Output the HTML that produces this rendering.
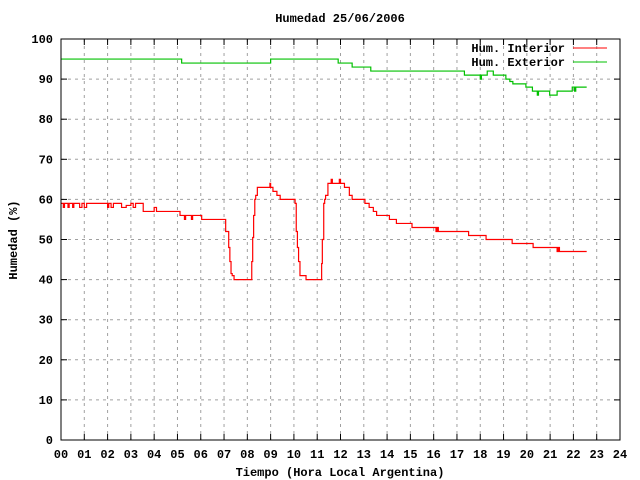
<!DOCTYPE html>
<html><head><meta charset="utf-8"><style>
body{margin:0;background:#fff}
svg{display:block}
text{font-family:"Liberation Mono",monospace;font-size:12px;font-weight:bold;fill:#000}
</style></head><body>
<svg id="c" width="640" height="480"></svg>
<script>
const xTicks=["00","01","02","03","04","05","06","07","08","09","10","11","12","13","14","15","16","17","18","19","20","21","22","23","24"];
const yTicks=[0,10,20,30,40,50,60,70,80,90,100];
const interiorT=[0,0.1,0.15,0.3,0.35,0.5,0.55,0.8,0.9,1.0,1.1,2.0,2.05,2.15,2.25,2.6,2.8,3.0,3.1,3.2,3.53,4.0,4.1,5.11,5.3,5.35,5.6,5.65,6.04,7.07,7.2,7.25,7.3,7.35,7.43,8.19,8.23,8.27,8.32,8.36,8.43,8.97,9.0,9.1,9.27,9.41,10.05,10.1,10.15,10.2,10.26,10.32,10.52,11.19,11.22,11.28,11.32,11.36,11.46,11.6,11.65,11.95,12.0,12.17,12.38,12.5,13.05,13.23,13.41,13.55,14.1,14.4,15.07,16.1,16.15,16.2,17.5,18.25,19.37,20.27,21.3,21.35,21.4,22.57];
const interiorV=[59,58,59,58,59,58,59,58,59,58,59,58,59,58,59,58,58.5,59,58,59,57,58,57,56,55,56,55,56,55,52,48,44.5,41.5,41,40,44.5,50.5,56,60,61,63,64,63,62,61,60,59,52,48,44.5,41,41,40,44,50,59,60,61,64,65,64,65,64,63,61,60,59,58,57,56,55,54,53,52,53,52,51,50,49,48,47,48,47,47];
const exteriorT=[0,5.18,9.0,11.9,12.5,13.3,17.32,18.0,18.05,18.3,18.56,19.1,19.27,19.4,19.96,20.24,20.45,20.5,20.98,21.3,21.95,22.05,22.1,22.57];
const exteriorV=[95,94,95,94,93,92,91,90,91,92,91,90,89.4,88.8,88,87,86,87,86,87,88,87,88,88];
const L=61,R=620,T=39,B=440;
const xs=h=>L+h*(R-L)/24, ys=v=>B-v*(B-T)/100;
const svg=document.getElementById('c');const NS='http://www.w3.org/2000/svg';
function mk(tag,attrs,txt){const e=document.createElementNS(NS,tag);for(const k in attrs)e.setAttribute(k,attrs[k]);if(txt!==undefined)e.textContent=txt;svg.appendChild(e);return e;}
yTicks.forEach((v,i)=>{const y=ys(v);
 if(v>0&&v<100){const g=mk('line',{x1:L,x2:R,y1:y,y2:y,stroke:'#a0a0a0','stroke-dasharray':'3,4'});}
 const t1=mk('line',{x1:L,x2:L+6,y1:y,y2:y,stroke:'#000'});
 const t2=mk('line',{x1:R-6,x2:R,y1:y,y2:y,stroke:'#000'});
 const lb=mk('text',{x:L-8,y:y+4,'text-anchor':'end'},String(v));
});
xTicks.forEach((s,i)=>{const x=xs(i);
 if(i>0&&i<24){const g=mk('line',{x1:x,x2:x,y1:T,y2:B,stroke:'#a0a0a0','stroke-dasharray':'3,4'});}
 const t1=mk('line',{x1:x,x2:x,y1:B-6,y2:B,stroke:'#000'});
 const t2=mk('line',{x1:x,x2:x,y1:T,y2:T+6,stroke:'#000'});
 const lb=mk('text',{x:x,y:458,'text-anchor':'middle'},s);
});
function stepPath(ts,vs){let d='M'+xs(ts[0])+','+ys(vs[0]);for(let i=1;i<ts.length;i++){d+='H'+xs(ts[i])+'V'+ys(vs[i]);}return d;}
const p1=mk('path',{d:stepPath(interiorT,interiorV),fill:'none',stroke:'#ff0000','stroke-width':1.2});


const p2=mk('path',{d:stepPath(exteriorT,exteriorV),fill:'none',stroke:'#00c000','stroke-width':1.2});


const fr=mk('rect',{x:L,y:T,width:R-L,height:B-T,fill:'none',stroke:'#000'});


const l1=mk('text',{x:565,y:52,'text-anchor':'end'},'Hum. Interior');


const l1l=mk('line',{x1:573,x2:607,y1:48,y2:48,stroke:'#ff0000'});


const l2=mk('text',{x:565,y:66,'text-anchor':'end'},'Hum. Exterior');


const l2l=mk('line',{x1:573,x2:607,y1:62,y2:62,stroke:'#00c000'});


const ti=mk('text',{x:340,y:22,'text-anchor':'middle'},'Humedad 25/06/2006');


const xt=mk('text',{x:340,y:476,'text-anchor':'middle'},'Tiempo (Hora Local Argentina)');


const yt=mk('text',{x:0,y:0,'text-anchor':'middle',transform:'translate(17,240) rotate(-90)'},'Humedad (%)');


</script>
</body></html>
